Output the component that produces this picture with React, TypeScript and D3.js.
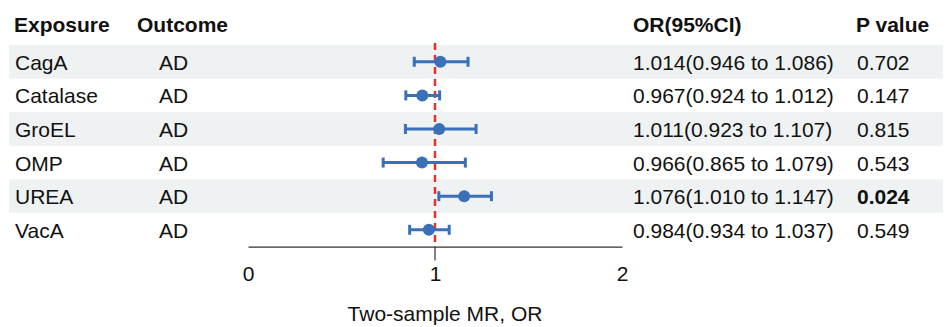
import React, { useEffect, useRef } from 'react';
import * as d3 from 'd3';

const exposures = ['CagA', 'Catalase', 'GroEL', 'OMP', 'UREA', 'VacA'];
const outcomes = ['AD', 'AD', 'AD', 'AD', 'AD', 'AD'];
const orValues = [1.014, 0.967, 1.011, 0.966, 1.076, 0.984];
const lowerCI = [0.946, 0.924, 0.923, 0.865, 1.01, 0.934];
const upperCI = [1.086, 1.012, 1.107, 1.079, 1.147, 1.037];
const pValues = ['0.702', '0.147', '0.815', '0.543', '0.024', '0.549'];
const axisTicks = [0, 1, 2];

const FONT = 'Arial, "Liberation Sans", Helvetica, sans-serif';

const App = () => {
  const svgRef = useRef(null);

  useEffect(() => {
    const svg = d3.select(svgRef.current);
    svg.selectAll('*').remove();

    const width = 946;
    const height = 327;
    const rowTop = 45;
    const rowH = 33.6;
    const n = exposures.length;
    const axisY = rowTop + rowH * n;

    // axis scale (what the labels say) and plotting scale (what the marks use)
    const xAxis = d3.scaleLinear().domain([0, 2]).range([248, 622]);
    const xMark = d3.scaleLinear().domain([0.5, 1.5]).range([435 - 192, 435 + 192]);

    const rowY = (i) => rowTop + rowH * i + rowH / 2;

    // row bands
    svg.append('g')
      .selectAll('rect')
      .data(exposures.map((d, i) => i).filter((i) => i % 2 === 0))
      .enter()
      .append('rect')
      .attr('x', 9)
      .attr('y', (i) => rowTop + rowH * i)
      .attr('width', 934)
      .attr('height', rowH)
      .attr('fill', '#eef2f2');

    // header
    const header = svg.append('g')
      .style('font-family', FONT)
      .style('font-size', '21px')
      .style('font-weight', 'bold')
      .attr('fill', '#111');
    header.append('text').attr('x', 14).attr('y', 32).text('Exposure');
    header.append('text').attr('x', 137).attr('y', 32).text('Outcome');
    header.append('text').attr('x', 633).attr('y', 32).text('OR(95%CI)');
    header.append('text').attr('x', 856).attr('y', 32).text('P value');

    // table text
    const rows = svg.append('g')
      .style('font-family', FONT)
      .style('font-size', '21px')
      .attr('fill', '#111');
    exposures.forEach((e, i) => {
      const y = rowY(i) + 8;
      rows.append('text').attr('x', 15).attr('y', y).text(e);
      rows.append('text').attr('x', 159).attr('y', y).text(outcomes[i]);
      rows.append('text').attr('x', 633).attr('y', y)
        .text(`${orValues[i].toFixed(3)}(${lowerCI[i].toFixed(3)} to ${upperCI[i].toFixed(3)})`);
      rows.append('text').attr('x', 857).attr('y', y)
        .style('font-weight', +pValues[i] < 0.05 ? 'bold' : 'normal')
        .text(pValues[i]);
    });

    // axis: labels at 0, 1, 2, a tick mark only at 1
    const axisG = svg.append('g')
      .attr('transform', `translate(0,${axisY})`)
      .call(d3.axisBottom(xAxis).tickValues(axisTicks).tickSize(0).tickPadding(19).tickFormat(d3.format('d')));
    axisG.select('.domain').attr('stroke', '#333').attr('stroke-width', 1.2);
    axisG.selectAll('.tick text')
      .style('font-family', FONT)
      .style('font-size', '21px')
      .attr('fill', '#111');
    axisG.append('line')
      .attr('x1', xAxis(1))
      .attr('x2', xAxis(1))
      .attr('y1', 0)
      .attr('y2', 14)
      .attr('stroke', '#333')
      .attr('stroke-width', 1.2);

    svg.append('text')
      .attr('x', 445)
      .attr('y', 321)
      .attr('text-anchor', 'middle')
      .style('font-family', FONT)
      .style('font-size', '21px')
      .attr('fill', '#111')
      .text('Two-sample MR, OR');

    // reference line
    svg.append('line')
      .attr('x1', xMark(1))
      .attr('x2', xMark(1))
      .attr('y1', 43)
      .attr('y2', axisY)
      .attr('stroke', '#e8302a')
      .attr('stroke-width', 2.5)
      .attr('stroke-dasharray', '7,5');

    // error bars
    const blue = '#3a70b8';
    const bars = svg.append('g').attr('stroke', blue).attr('stroke-width', 3);
    exposures.forEach((e, i) => {
      const y = rowY(i);
      bars.append('line').attr('x1', xMark(lowerCI[i])).attr('x2', xMark(upperCI[i])).attr('y1', y).attr('y2', y);
      [lowerCI[i], upperCI[i]].forEach((v) => {
        bars.append('line').attr('x1', xMark(v)).attr('x2', xMark(v)).attr('y1', y - 5).attr('y2', y + 5);
      });
    });

    svg.append('g')
      .selectAll('circle')
      .data(orValues)
      .enter()
      .append('circle')
      .attr('cx', (d) => xMark(d))
      .attr('cy', (d, i) => rowY(i))
      .attr('r', 6)
      .attr('fill', blue);

    svg.attr('width', width).attr('height', height);
  }, []);

  return (
    <div style={{ position: 'absolute', left: 0, top: 0 }}>
      <svg ref={svgRef} style={{ display: 'block', background: '#fff' }}></svg>
    </div>
  );
};

export default App;
